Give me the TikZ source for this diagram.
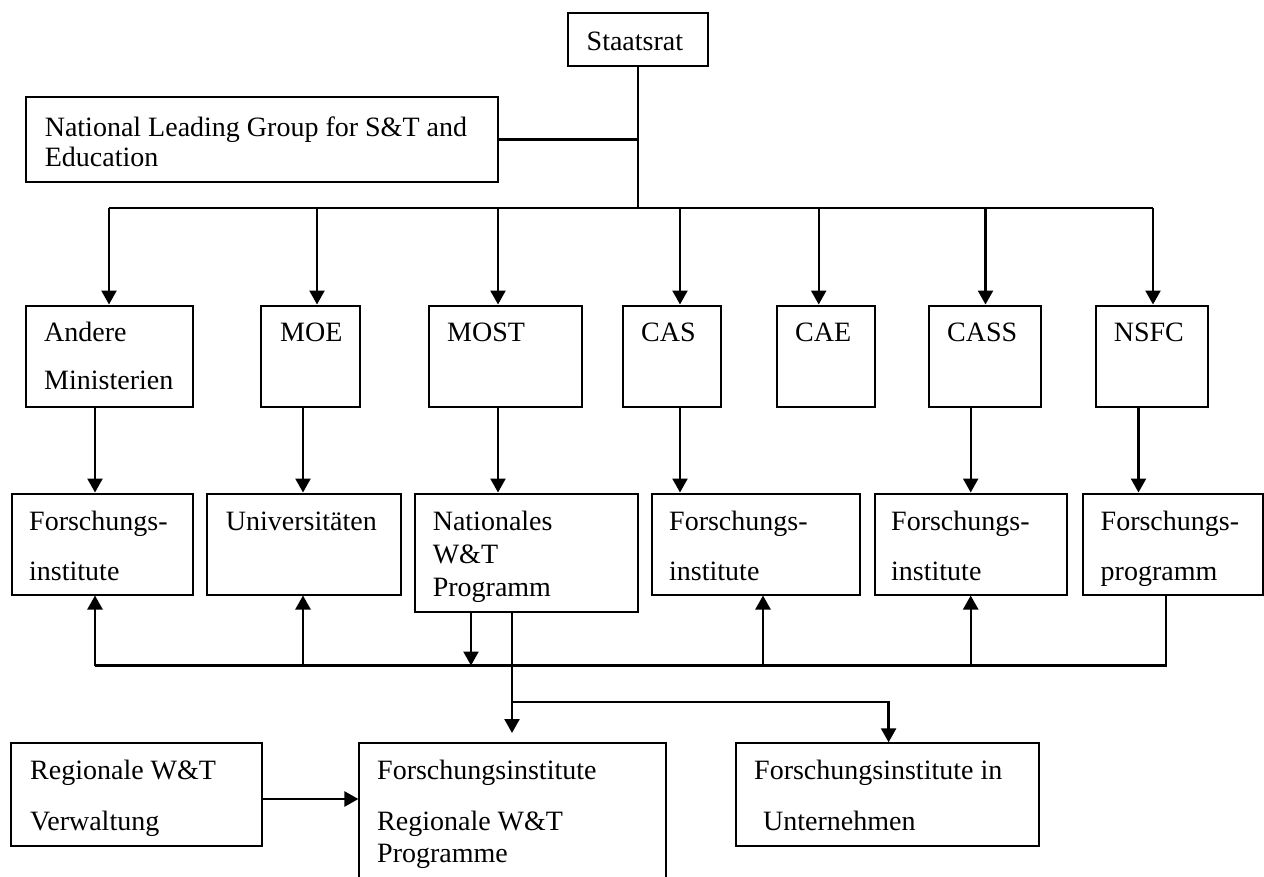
\documentclass[tikz,border=0pt]{standalone}
\usepackage{fontspec}
\setmainfont{Liberation Serif}
\usetikzlibrary{arrows.meta,fit}
\begin{document}
\begin{tikzpicture}[x=1pt,y=-1pt,
  box/.style={draw=black,line width=2pt,inner sep=0pt},
  txt/.style={anchor=base west,inner sep=0pt,font=\fontsize{28}{34}\selectfont},
  con/.style={line width=2.4pt},
  arr/.style={con,-{Triangle[length=14pt,width=15pt]}}]
\clip (0,0) rectangle (1264,876);
\fill[white] (0,0) rectangle (1264,876);
% boxes
\node[box,fit={(568,13) (708,66)}] (staat) {};
\node[box,fit={(25.7,97) (498,182)}] (nlg) {};
\node[box,fit={(25.7,305.5) (193,407)}] (andere) {};
\node[box,fit={(261,305.5) (360,407)}] (moe) {};
\node[box,fit={(428.6,305.5) (582,407)}] (most) {};
\node[box,fit={(623,305.5) (721,407)}] (cas) {};
\node[box,fit={(776.5,305.5) (874.6,407)}] (cae) {};
\node[box,fit={(929,305.5) (1041,407)}] (cass) {};
\node[box,fit={(1096,305.5) (1208,407)}] (nsfc) {};
\node[box,fit={(11.5,493.5) (193,594.5)}] (fi1) {};
\node[box,fit={(207,493.5) (401,594.5)}] (uni) {};
\node[box,fit={(415,493.5) (638,612)}] (nat) {};
\node[box,fit={(651.6,493.5) (860,594.5)}] (fi2) {};
\node[box,fit={(874.5,493.5) (1067,594.5)}] (fi3) {};
\node[box,fit={(1082.5,493.5) (1262.8,594.5)}] (fp) {};
\node[box,fit={(11,743.3) (262,846)}] (reg) {};
\node[box,fit={(359.4,743.3) (666,895)}] (fireg) {};
\node[box,fit={(735.5,743.3) (1039,846)}] (fiu) {};
% texts
\node[txt] (tstaat) at (586.5,50) {Staatsrat};
\node[txt] (tnlg1) at (44.6,136) {National Leading Group for S\&T and};
\node[txt] (tnlg2) at (44.6,166.7) {Education};
\node[txt] (tand1) at (44,341) {Andere};
\node[txt] (tand2) at (44,389) {Ministerien};
\node[txt] (tmoe) at (280,341) {MOE};
\node[txt] (tmost) at (447,341) {MOST};
\node[txt] (tcas) at (641,341) {CAS};
\node[txt] (tcae) at (795,341) {CAE};
\node[txt] (tcass) at (947,341) {CASS};
\node[txt] (tnsfc) at (1113.6,341) {NSFC};
\node[txt] (tfi1a) at (29,530) {Forschungs-};
\node[txt] (tfi1b) at (29,580) {institute};
\node[txt] (tuni) at (225.7,530) {Universitäten};
\node[txt] (tnat1) at (432.6,530) {Nationales};
\node[txt] (tnat2) at (432.6,563) {W\&T};
\node[txt] (tnat3) at (432.6,596) {Programm};
\node[txt] (tfi2a) at (669,530) {Forschungs-};
\node[txt] (tfi2b) at (669,580) {institute};
\node[txt] (tfi3a) at (891,530) {Forschungs-};
\node[txt] (tfi3b) at (891,580) {institute};
\node[txt] (tfpa) at (1100.5,530) {Forschungs-};
\node[txt] (tfpb) at (1100.5,580) {programm};
\node[txt] (treg1) at (30,779) {Regionale W\&T};
\node[txt] (treg2) at (30,830) {Verwaltung};
\node[txt] (tfr1) at (377,779) {Forschungsinstitute};
\node[txt] (tfr2) at (377,830) {Regionale W\&T};
\node[txt] (tfr3) at (377,862.7) {Programme};
\node[txt] (tfu1) at (754,779) {Forschungsinstitute in};
\node[txt] (tfu2) at (763,830) {Unternehmen};
% top connectors
\coordinate (busL) at (109,208);
\coordinate (busR) at (1153,208);
\draw[con] (staat.south) -- (staat.south |- busL);
\draw[con] (nlg.east) -- (nlg.east -| staat.south);
\draw[con] (busL) -- (busR);
\coordinate (dA) at (109,208);
\coordinate (dB) at (317,208);
\coordinate (dC) at (498,208);
\coordinate (dD) at (680,208);
\coordinate (dE) at (818.7,208);
\coordinate (dF) at (985.5,208);
\coordinate (dG) at (1153,208);
\draw[arr] (dA) -- (dA |- andere.north);
\draw[arr] (dB) -- (dB |- moe.north);
\draw[arr] (dC) -- (dC |- most.north);
\draw[arr] (dD) -- (dD |- cas.north);
\draw[arr] (dE) -- (dE |- cae.north);
\draw[arr] (dF) -- (dF |- cass.north);
\draw[arr] (dG) -- (dG |- nsfc.north);
% row 1 to row 3
\coordinate (vA) at (95,0);
\coordinate (vB) at (303,0);
\coordinate (vC) at (498,0);
\coordinate (vD) at (680,0);
\coordinate (vF) at (970.7,0);
\coordinate (vG) at (1138.5,0);
\draw[arr] (vA |- andere.south) -- (vA |- fi1.north);
\draw[arr] (vB |- moe.south) -- (vB |- uni.north);
\draw[arr] (vC |- most.south) -- (vC |- nat.north);
\draw[arr] (vD |- cas.south) -- (vD |- fi2.north);
\draw[arr] (vF |- cass.south) -- (vF |- fi3.north);
\draw[arr] (vG |- nsfc.south) -- (vG |- fp.north);
% lower bus
\coordinate (b2L) at (95,665.5);
\coordinate (b2R) at (1166,665.5);
\draw[con] (b2R |- fp.south) -- (b2R) -- (b2L);
\draw[arr] (b2L) -- (b2L |- fi1.south);
\coordinate (uB) at (303,665.5);
\coordinate (uD) at (763,665.5);
\coordinate (uF) at (970.7,665.5);
\draw[arr] (uB) -- (uB |- uni.south);
\draw[arr] (uD) -- (uD |- fi2.south);
\draw[arr] (uF) -- (uF |- fi3.south);
\coordinate (nd) at (471,665.5);
\draw[arr] (nd |- nat.south) -- (nd);
% branch to bottom row
\coordinate (k) at (512,701.7);
\coordinate (k2) at (888.6,701.7);
\coordinate (kt) at (512,733);
\draw[con] (k |- nat.south) -- (k);
\draw[arr] (k) -- (k2) -- (k2 |- fiu.north);
\draw[arr] (k) -- (kt);
\coordinate (h) at (0,799);
\draw[arr] (h -| reg.east) -- (h -| fireg.west);
\end{tikzpicture}
\end{document}
